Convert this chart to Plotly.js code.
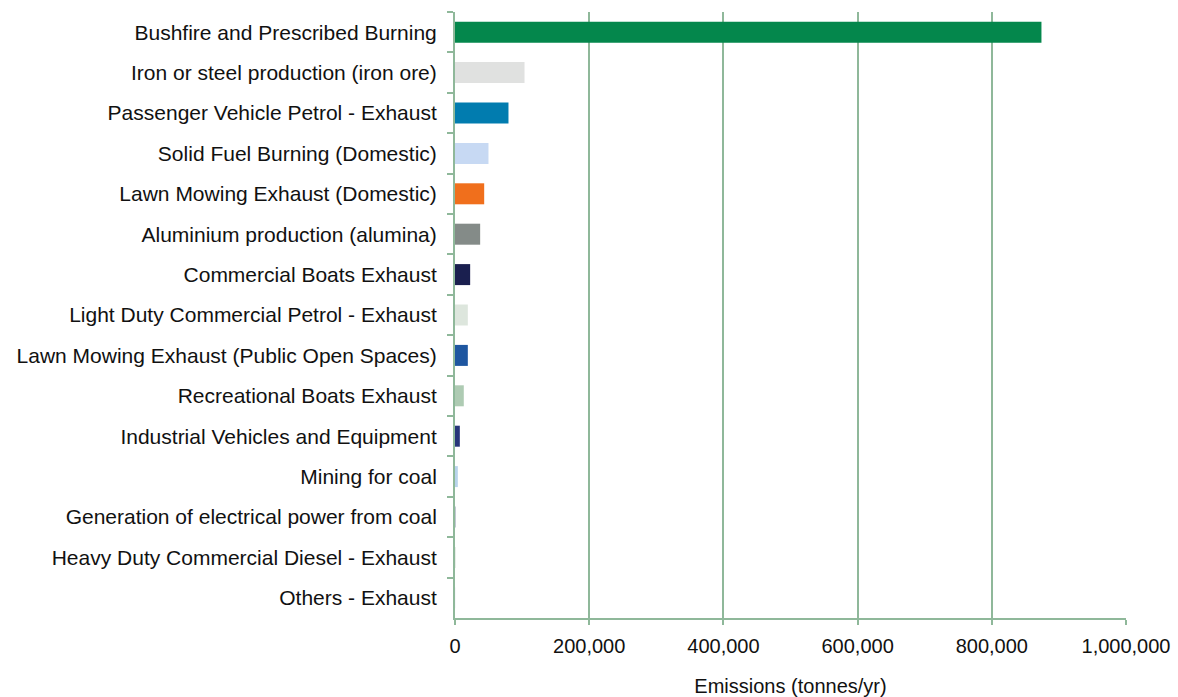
<!DOCTYPE html>
<html>
<head>
<meta charset="utf-8">
<script src="https://cdn.plot.ly/plotly-3.0.1.min.js"></script>
<style>html,body{margin:0;padding:0;background:#fff;}#chart{width:1178px;height:697px;}</style>
</head>
<body>
<div id="chart"></div>
<script>
const categories = [
  "Bushfire and Prescribed Burning",
  "Iron or steel production (iron ore)",
  "Passenger Vehicle Petrol - Exhaust",
  "Solid Fuel Burning (Domestic)",
  "Lawn Mowing Exhaust (Domestic)",
  "Aluminium production (alumina)",
  "Commercial Boats Exhaust",
  "Light Duty Commercial Petrol - Exhaust",
  "Lawn Mowing Exhaust (Public Open Spaces)",
  "Recreational Boats Exhaust",
  "Industrial Vehicles and Equipment",
  "Mining for coal",
  "Generation of electrical power from coal",
  "Heavy Duty Commercial Diesel - Exhaust",
  "Others - Exhaust"
];
const emissions = [874000, 103600, 79700, 49900, 43500, 37500, 22600, 19100, 19100, 13100, 7200, 4200, 900, 600, 300];
const barColors = ["#04874c", "#e0e1e0", "#017caf", "#c7d9f3", "#f06f1c", "#848b88", "#1a1f4f", "#dde6dd", "#1e56a0", "#aecbb3", "#263579", "#b8d3ec", "#9aa5b5", "#c9d4c9", "#d6dde6"];
const xTickVals = [0, 200000, 400000, 600000, 800000, 1000000];
const xTickText = ["0", "200,000", "400,000", "600,000", "800,000", "1,000,000"];

const gridGreen = "#8fb89a";
Plotly.newPlot("chart", [{
  type: "bar",
  orientation: "h",
  y: categories,
  x: emissions,
  marker: {color: barColors},
  hoverinfo: "x+y"
}], {
  width: 1178, height: 697,
  margin: {l: 455, r: 52, t: 12, b: 79},
  bargap: 0.48,
  paper_bgcolor: "#fff", plot_bgcolor: "#fff",
  font: {family: "Liberation Sans, Arial, sans-serif", size: 20, color: "#111"},
  showlegend: false,
  xaxis: {
    range: [0, 1000000],
    tickvals: xTickVals, ticktext: xTickText,
    showgrid: true, gridcolor: gridGreen, gridwidth: 2,
    showline: true, linecolor: gridGreen, linewidth: 2,
    ticks: "outside", ticklen: 5, tickcolor: gridGreen, tickwidth: 2,
    zeroline: false,
    ticklabelstandoff: 4,
    tickfont: {size: 20},
    title: {text: "Emissions (tonnes/yr)", font: {size: 20}, standoff: 23}
  },
  yaxis: {
    type: "category",
    autorange: "reversed",
    showgrid: false,
    showline: true, linecolor: gridGreen, linewidth: 2,
    ticks: "outside", ticklen: 6, tickcolor: gridGreen, tickwidth: 2,
    tickson: "boundaries",
    ticklabelstandoff: 12,
    tickfont: {size: 21}
  }
}, {displayModeBar: false, staticPlot: true});
</script>
</body>
</html>
